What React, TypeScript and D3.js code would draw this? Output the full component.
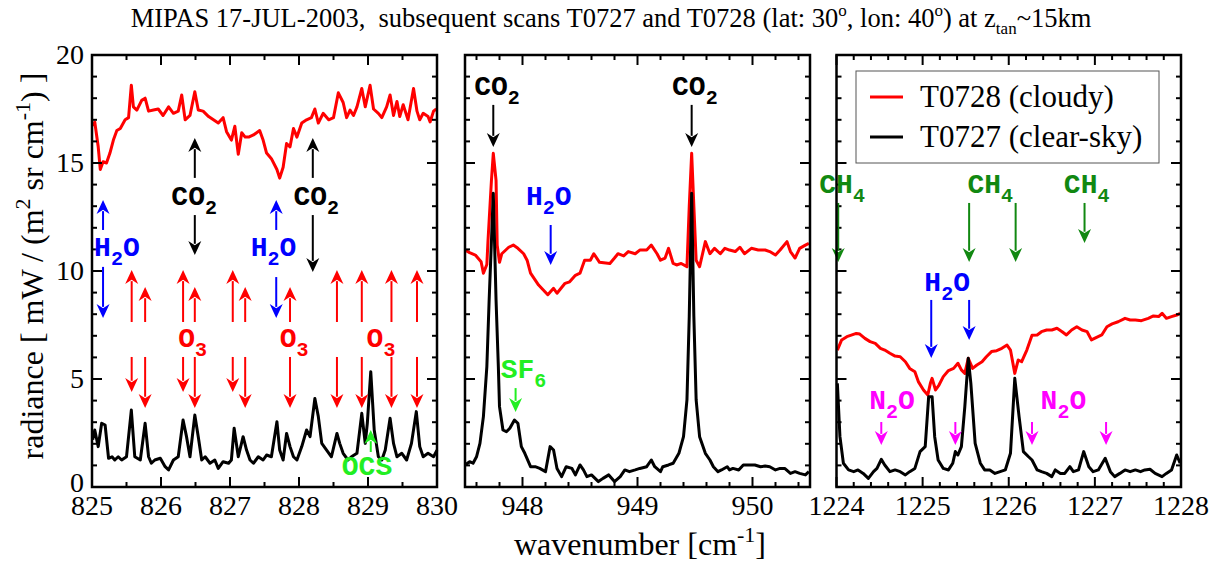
import React from "react";
import * as d3 from "d3";

// ---------------- data ----------------
const p1Cloudy: [number, number][] = [[825.02,16.7],[825.04,16.9],[825.09,15.75],[825.12,14.7],[825.16,15.06],[825.21,15.0],[825.26,15.46],[825.31,16.06],[825.36,16.5],[825.41,16.6],[825.48,17.0],[825.53,17.1],[825.57,18.6],[825.60,17.6],[825.65,17.45],[825.72,17.9],[825.77,18.0],[825.82,17.4],[825.89,17.45],[825.96,17.5],[826.03,17.2],[826.11,17.6],[826.18,17.3],[826.25,17.4],[826.30,18.15],[826.35,17.0],[826.42,17.2],[826.49,18.3],[826.54,17.45],[826.61,17.4],[826.69,17.15],[826.76,17.0],[826.83,16.85],[826.90,17.1],[826.95,16.45],[827.02,16.06],[827.07,16.7],[827.12,15.4],[827.17,16.4],[827.22,16.2],[827.27,16.2],[827.34,16.3],[827.43,16.5],[827.48,16.06],[827.53,15.46],[827.60,15.2],[827.68,14.7],[827.72,14.3],[827.77,14.8],[827.82,15.9],[827.87,15.75],[827.92,16.6],[827.97,16.2],[828.04,16.85],[828.11,17.0],[828.18,17.1],[828.23,17.5],[828.28,16.85],[828.35,17.3],[828.43,17.0],[828.50,17.1],[828.57,18.25],[828.64,17.8],[828.69,17.1],[828.74,17.45],[828.79,17.2],[828.84,17.6],[828.91,18.45],[828.96,17.6],[829.03,18.6],[829.08,17.5],[829.15,17.3],[829.20,17.1],[829.27,17.6],[829.32,18.15],[829.37,17.2],[829.42,17.85],[829.46,17.15],[829.51,17.7],[829.58,17.0],[829.66,18.45],[829.71,17.4],[829.75,17.0],[829.80,17.3],[829.87,17.15],[829.90,16.9],[829.95,17.4],[829.99,17.5]];

const p1Clear: [number, number][] = [[825.01,2.19],[825.04,2.64],[825.09,1.87],[825.14,2.95],[825.19,2.87],[825.24,1.33],[825.29,1.40],[825.33,1.25],[825.38,1.40],[825.43,1.25],[825.50,1.40],[825.57,3.56],[825.62,1.40],[825.70,1.25],[825.77,2.95],[825.82,1.40],[825.86,1.10],[825.91,1.25],[825.99,1.33],[826.06,0.94],[826.11,0.79],[826.18,1.25],[826.25,1.40],[826.32,3.10],[826.37,2.33],[826.42,1.40],[826.49,3.33],[826.54,2.33],[826.59,1.25],[826.64,1.40],[826.71,1.10],[826.78,1.25],[826.83,0.86],[826.90,1.17],[826.98,1.10],[827.02,1.25],[827.06,2.72],[827.12,1.40],[827.19,2.33],[827.24,1.71],[827.29,1.25],[827.34,1.10],[827.41,1.40],[827.48,1.25],[827.53,1.48],[827.60,1.40],[827.68,3.02],[827.72,1.71],[827.77,1.25],[827.82,2.48],[827.87,1.87],[827.92,1.40],[827.97,1.25],[828.04,1.87],[828.11,2.64],[828.16,2.33],[828.23,4.10],[828.28,3.26],[828.33,2.02],[828.40,1.71],[828.47,1.40],[828.55,2.48],[828.59,2.02],[828.64,1.56],[828.71,1.25],[828.76,1.40],[828.84,1.56],[828.91,3.41],[828.96,2.02],[828.99,2.95],[829.04,5.34],[829.09,2.64],[829.15,1.40],[829.20,1.25],[829.25,1.71],[829.32,3.18],[829.37,2.02],[829.42,1.40],[829.49,1.56],[829.56,1.25],[829.63,2.02],[829.70,3.49],[829.75,1.87],[829.80,1.40],[829.87,1.56],[829.95,1.40],[830.0,1.71]];

const p2Cloudy: [number, number][] = [[947.50,10.97],[947.54,10.85],[947.59,10.74],[947.64,10.43],[947.66,9.9],[947.69,10.3],[947.70,11.4],[947.73,14.2],[947.746,15.45],[947.77,14.2],[947.78,11.2],[947.80,10.4],[947.82,10.8],[947.88,11.1],[947.92,11.2],[947.96,11.05],[948.01,10.8],[948.04,10.5],[948.07,9.9],[948.14,9.35],[948.22,8.9],[948.27,9.2],[948.30,8.97],[948.37,9.43],[948.41,9.5],[948.46,9.8],[948.50,9.9],[948.54,10.5],[948.59,10.5],[948.62,10.8],[948.67,10.4],[948.76,10.35],[948.80,10.6],[948.83,10.8],[948.88,10.7],[948.92,10.9],[948.98,10.8],[949.02,10.97],[949.08,10.97],[949.12,11.2],[949.17,10.8],[949.20,10.5],[949.24,10.6],[949.27,11.05],[949.31,10.35],[949.34,10.28],[949.38,10.35],[949.43,10.2],[949.45,13.0],[949.471,15.45],[949.49,13.0],[949.51,10.5],[949.54,10.2],[949.59,11.36],[949.63,10.8],[949.67,11.05],[949.72,10.8],[949.76,11.05],[949.80,10.97],[949.85,10.9],[949.89,11.1],[949.93,10.8],[949.99,11.05],[950.05,10.97],[950.11,10.97],[950.15,10.9],[950.20,10.74],[950.24,10.97],[950.30,11.36],[950.33,10.9],[950.37,10.6],[950.41,11.05],[950.46,11.2],[950.49,11.28]];

const p2Clear: [number, number][] = [[947.50,1.02],[947.54,1.17],[947.57,1.10],[947.60,1.40],[947.63,2.02],[947.66,3.26],[947.69,5.57],[947.71,8.66],[947.746,13.6],[947.77,8.66],[947.79,5.57],[947.80,3.72],[947.83,2.64],[947.86,2.56],[947.89,2.72],[947.93,3.10],[947.96,2.95],[947.99,1.87],[948.02,1.56],[948.07,0.94],[948.11,0.94],[948.15,0.86],[948.20,0.71],[948.24,1.87],[948.27,1.71],[948.30,0.86],[948.34,0.48],[948.38,0.94],[948.43,0.86],[948.46,0.56],[948.50,1.02],[948.53,0.79],[948.56,0.48],[948.60,0.56],[948.66,0.25],[948.70,0.40],[948.75,0.56],[948.80,0.25],[948.85,0.48],[948.89,0.79],[948.93,0.71],[948.98,0.79],[949.02,0.86],[949.08,0.94],[949.12,1.25],[949.15,0.94],[949.20,0.71],[949.22,0.94],[949.27,1.02],[949.31,1.10],[949.36,1.56],[949.40,2.33],[949.43,4.03],[949.45,7.9],[949.471,13.6],[949.49,7.9],[949.51,4.03],[949.54,2.33],[949.59,1.56],[949.63,1.25],[949.66,0.94],[949.70,0.71],[949.73,0.79],[949.78,0.94],[949.80,0.79],[949.83,0.86],[949.88,0.79],[949.92,1.02],[949.96,1.02],[950.02,1.02],[950.07,0.94],[950.11,0.97],[950.15,0.94],[950.20,0.79],[950.24,0.86],[950.28,0.86],[950.33,0.63],[950.37,0.71],[950.41,0.63],[950.46,0.56],[950.49,0.71]];

const p3Cloudy: [number, number][] = [[1224.01,6.34],[1224.06,6.81],[1224.12,6.96],[1224.18,7.04],[1224.23,7.11],[1224.27,7.08],[1224.33,6.88],[1224.39,6.73],[1224.45,6.65],[1224.51,6.42],[1224.56,6.34],[1224.62,6.19],[1224.68,6.06],[1224.74,6.03],[1224.80,5.80],[1224.85,5.49],[1224.91,5.34],[1224.95,4.88],[1225.01,4.49],[1225.06,4.26],[1225.09,4.80],[1225.11,5.03],[1225.15,4.49],[1225.19,4.72],[1225.24,5.11],[1225.30,5.39],[1225.36,5.49],[1225.41,5.73],[1225.45,5.42],[1225.49,5.26],[1225.53,5.96],[1225.58,5.49],[1225.63,5.65],[1225.69,5.80],[1225.74,6.03],[1225.80,6.27],[1225.86,6.31],[1225.92,6.42],[1225.98,6.57],[1226.02,6.34],[1226.07,5.26],[1226.11,5.88],[1226.15,5.80],[1226.21,6.34],[1226.27,7.03],[1226.33,7.04],[1226.38,7.19],[1226.44,7.27],[1226.50,7.27],[1226.56,7.35],[1226.62,7.19],[1226.67,7.04],[1226.73,7.27],[1226.79,7.42],[1226.85,7.27],[1226.91,7.19],[1226.96,6.81],[1227.02,6.93],[1227.08,7.04],[1227.14,7.42],[1227.20,7.55],[1227.27,7.65],[1227.35,7.81],[1227.41,7.73],[1227.47,7.73],[1227.54,7.70],[1227.62,7.81],[1227.68,7.92],[1227.74,7.89],[1227.78,8.04],[1227.83,7.81],[1227.89,7.89],[1227.95,7.96],[1227.99,8.04]];

const p3Clear: [number, number][] = [[1224.01,4.80],[1224.04,2.33],[1224.08,1.10],[1224.14,0.79],[1224.20,0.71],[1224.25,0.79],[1224.31,0.63],[1224.37,0.40],[1224.43,0.71],[1224.47,0.86],[1224.52,1.28],[1224.56,1.02],[1224.62,0.71],[1224.68,0.79],[1224.74,0.71],[1224.80,0.56],[1224.85,0.71],[1224.91,0.86],[1224.97,1.64],[1225.03,1.87],[1225.07,4.18],[1225.11,4.18],[1225.14,2.33],[1225.18,1.25],[1225.24,0.86],[1225.30,0.79],[1225.35,1.10],[1225.38,1.64],[1225.41,1.48],[1225.45,1.87],[1225.49,3.72],[1225.53,5.96],[1225.56,4.80],[1225.61,2.02],[1225.67,1.10],[1225.72,0.79],[1225.78,0.79],[1225.84,0.63],[1225.90,0.71],[1225.96,0.79],[1226.02,1.56],[1226.07,5.03],[1226.12,3.26],[1226.17,1.64],[1226.23,1.40],[1226.27,1.25],[1226.33,0.79],[1226.38,0.71],[1226.44,0.63],[1226.50,0.48],[1226.54,0.79],[1226.60,0.63],[1226.65,0.63],[1226.71,0.94],[1226.75,0.71],[1226.81,0.79],[1226.87,1.64],[1226.93,0.94],[1226.98,0.71],[1227.04,0.79],[1227.12,1.33],[1227.18,0.71],[1227.23,0.48],[1227.29,0.63],[1227.35,0.79],[1227.41,0.71],[1227.47,0.79],[1227.53,0.71],[1227.58,0.79],[1227.64,0.82],[1227.70,0.63],[1227.78,0.48],[1227.83,0.63],[1227.89,0.79],[1227.95,1.48],[1227.99,1.10]];

const p1Ticks = [825, 826, 827, 828, 829, 830];
const p2Ticks = [948, 949, 950];
const p3Ticks = [1224, 1225, 1226, 1227, 1228];
const yTicks = [0, 5, 10, 15, 20];

const legendLabels = ["T0728 (cloudy)", "T0727 (clear-sky)"];

// annotations: [panel, wavenumber, from, to(tip), color]
type Arrow = [number, number, number, number, string];
const arrows: Arrow[] = [
  [0, 826.49, 14.31, 16.16, "#000"], [0, 828.2, 14.31, 16.16, "#000"],
  [0, 826.49, 12.59, 10.74, "#000"], [0, 828.2, 12.59, 9.95, "#000"],
  [0, 825.16, 11.9, 13.29, "#0000ff"], [0, 827.67, 11.9, 13.29, "#0000ff"],
  [0, 825.16, 10.19, 7.82, "#0000ff"], [0, 827.67, 9.72, 7.82, "#0000ff"],
  [0, 825.575, 7.64, 10.05, "#ff0000"], [0, 825.77, 7.64, 9.26, "#ff0000"],
  [0, 826.32, 7.64, 10.05, "#ff0000"], [0, 826.49, 7.64, 9.26, "#ff0000"],
  [0, 827.04, 7.64, 10.05, "#ff0000"], [0, 827.22, 7.64, 9.26, "#ff0000"],
  [0, 827.87, 7.64, 9.26, "#ff0000"], [0, 828.55, 7.64, 10.05, "#ff0000"],
  [0, 828.91, 7.64, 10.05, "#ff0000"], [0, 829.34, 7.64, 10.05, "#ff0000"],
  [0, 829.71, 7.64, 10.05, "#ff0000"],
  [0, 825.575, 6.02, 4.4, "#ff0000"], [0, 825.77, 6.02, 3.66, "#ff0000"],
  [0, 826.32, 6.02, 4.4, "#ff0000"], [0, 826.49, 6.02, 3.66, "#ff0000"],
  [0, 827.04, 6.02, 4.4, "#ff0000"], [0, 827.22, 6.02, 3.66, "#ff0000"],
  [0, 827.87, 6.02, 3.66, "#ff0000"], [0, 828.55, 6.02, 3.66, "#ff0000"],
  [0, 828.91, 6.02, 3.66, "#ff0000"], [0, 829.34, 6.02, 3.66, "#ff0000"],
  [0, 829.71, 6.02, 3.66, "#ff0000"],
  [0, 829.04, 1.62, 2.64, "#22ee22"],
  [1, 947.746, 17.69, 15.74, "#000"], [1, 949.471, 17.69, 15.74, "#000"],
  [1, 948.245, 12.13, 10.28, "#0000ff"],
  [1, 947.94, 4.58, 3.47, "#22ee22"],
  [2, 1224.02, 13.15, 10.42, "#118811"], [2, 1225.54, 13.15, 10.42, "#118811"],
  [2, 1226.08, 13.15, 10.42, "#118811"], [2, 1226.88, 13.15, 11.3, "#118811"],
  [2, 1225.10, 8.66, 5.97, "#0000ff"], [2, 1225.54, 8.66, 6.81, "#0000ff"],
  [2, 1224.52, 3.01, 1.94, "#ff00ff"], [2, 1225.38, 3.01, 1.94, "#ff00ff"],
  [2, 1226.27, 3.01, 1.94, "#ff00ff"], [2, 1227.13, 3.01, 1.94, "#ff00ff"],
];

// labels: [panel, wavenumber (start), radiance (baseline), text, color]
type Lab = [number, number, number, string, string];
const labels: Lab[] = [
  [0, 826.15, 13.06, "CO_2", "#000"], [0, 827.92, 13.06, "CO_2", "#000"],
  [0, 825.03, 10.69, "H_2O", "#0000ff"], [0, 827.30, 10.69, "H_2O", "#0000ff"],
  [0, 826.25, 6.5, "O_3", "#ff0000"], [0, 827.72, 6.5, "O_3", "#ff0000"], [0, 828.98, 6.5, "O_3", "#ff0000"],
  [0, 828.62, 0.56, "OCS", "#22ee22"],
  [1, 947.58, 18.15, "CO_2", "#000"], [1, 949.30, 18.15, "CO_2", "#000"],
  [1, 948.03, 13.06, "H_2O", "#0000ff"],
  [1, 947.81, 5.05, "SF_6", "#22ee22"],
  [2, 1223.8, 13.61, "CH_4", "#118811"], [2, 1225.52, 13.61, "CH_4", "#118811"], [2, 1226.64, 13.61, "CH_4", "#118811"],
  [2, 1225.02, 9.09, "H_2O", "#0000ff"],
  [2, 1224.38, 3.61, "N_2O", "#ff00ff"], [2, 1226.37, 3.61, "N_2O", "#ff00ff"],
];

// ---------------- layout ----------------
const W = 1222, H = 562;
const TOP = 55, BOT = 487;
const SERIF = "'Liberation Serif', 'Times New Roman', serif";
const MONO = "'Liberation Mono', 'Courier New', monospace";

const y = d3.scaleLinear().domain([0, 20]).range([BOT, TOP]);
const panels = [
  { x: d3.scaleLinear().domain([825, 830]).range([92, 437]), major: p1Ticks, minorStep: 0.5, cloudy: p1Cloudy, clear: p1Clear },
  { x: d3.scaleLinear().domain([947.5, 950.5]).range([465, 810]), major: p2Ticks, minorStep: 0.2, cloudy: p2Cloudy, clear: p2Clear },
  { x: d3.scaleLinear().domain([1224, 1228]).range([836.5, 1181]), major: p3Ticks, minorStep: 0.2, cloudy: p3Cloudy, clear: p3Clear },
];

function parseParts(s: string) {
  const out: { t: string; sub: boolean }[] = [];
  for (let i = 0; i < s.length; i++) {
    if (s[i] === "_") { out.push({ t: s[i + 1], sub: true }); i++; }
    else out.push({ t: s[i], sub: false });
  }
  return out;
}

function MolLabel({ x, yy, text, color }: { x: number; yy: number; text: string; color: string }) {
  const parts = parseParts(text);
  const fs = 28, sfs = 20, sh = 9;
  let cur = 0;
  return (
    <text x={x} y={yy} fill={color} fontFamily={MONO} fontWeight="bold" fontSize={fs}>
      {parts.map((p, i) => {
        const target = p.sub ? sh : 0;
        const dy = target - cur;
        cur = target;
        return <tspan key={i} dy={dy} fontSize={p.sub ? sfs : fs}>{p.t}</tspan>;
      })}
    </text>
  );
}

function ArrowMark({ px, y1, y2, color }: { px: number; y1: number; y2: number; color: string }) {
  const dir = y2 > y1 ? 1 : -1;
  const hl = 14, hw = 6.5;
  return (
    <g>
      <line x1={px} x2={px} y1={y1} y2={y2 - dir * hl * 0.8} stroke={color} strokeWidth={2} />
      <polygon points={`${px},${y2} ${px - hw},${y2 - dir * hl} ${px},${y2 - dir * hl * 0.7} ${px + hw},${y2 - dir * hl}`} fill={color} />
    </g>
  );
}

export default function App() {
  const line = (sx: d3.ScaleLinear<number, number>) =>
    d3.line<[number, number]>().x((d) => sx(d[0])).y((d) => y(d[1]));

  const yMinor = d3.range(0, 21, 1);

  return (
    <svg width={W} height={H} style={{ position: "absolute", left: 0, top: 0, background: "#fff" }}>
      {/* title */}
      <text x={611} y={27} textAnchor="middle" fontFamily={SERIF} fontSize={26.5} fill="#000" style={{ whiteSpace: "pre" }}>
        <tspan>MIPAS 17-JUL-2003,  subsequent scans T0727 and T0728 (lat: 30</tspan>
        <tspan dy={-11} fontSize={17}>o</tspan>
        <tspan dy={11}>, lon: 40</tspan>
        <tspan dy={-11} fontSize={17}>o</tspan>
        <tspan dy={11}>) at z</tspan>
        <tspan dy={7} fontSize={17}>tan</tspan>
        <tspan dy={-7}>~15km</tspan>
      </text>

      {panels.map((p, pi) => {
        const [x0, x1] = p.x.range();
        const [d0, d1] = p.x.domain();
        const minors = d3.range(Math.ceil(d0 / p.minorStep - 1e-6) * p.minorStep, d1 + 1e-6, p.minorStep)
          .filter((v) => !p.major.some((m) => Math.abs(m - v) < 1e-6));
        return (
          <g key={pi}>
            {/* curves */}
            <path d={line(p.x)(p.cloudy) || ""} fill="none" stroke="#ff0000" strokeWidth={3} strokeLinejoin="round" />
            <path d={line(p.x)(p.clear) || ""} fill="none" stroke="#000" strokeWidth={3} strokeLinejoin="round" />
            {/* x ticks */}
            {p.major.map((t) => (
              <g key={"M" + t}>
                <line x1={p.x(t)} x2={p.x(t)} y1={BOT} y2={BOT - 10} stroke="#000" strokeWidth={2} />
                <line x1={p.x(t)} x2={p.x(t)} y1={TOP} y2={TOP + 10} stroke="#000" strokeWidth={2} />
                <text x={p.x(t)} y={515} textAnchor="middle" fontFamily={SERIF} fontSize={28}>{String(t)}</text>
              </g>
            ))}
            {minors.map((t, i) => (
              <g key={"m" + i}>
                <line x1={p.x(t)} x2={p.x(t)} y1={BOT} y2={BOT - 5} stroke="#000" strokeWidth={2} />
                <line x1={p.x(t)} x2={p.x(t)} y1={TOP} y2={TOP + 5} stroke="#000" strokeWidth={2} />
              </g>
            ))}
            {/* y ticks both sides */}
            {yMinor.map((v) => {
              const len = v % 5 === 0 ? 10 : 5;
              return (
                <g key={"y" + v}>
                  <line x1={x0} x2={x0 + len} y1={y(v)} y2={y(v)} stroke="#000" strokeWidth={2} />
                  <line x1={x1} x2={x1 - len} y1={y(v)} y2={y(v)} stroke="#000" strokeWidth={2} />
                </g>
              );
            })}
            {pi === 0 && yTicks.map((v) => (
              <text key={"yl" + v} x={84} y={y(v) + (v === 0 ? 5 : 9)} textAnchor="end" fontFamily={SERIF} fontSize={28}>{String(v)}</text>
            ))}
            {/* annotations */}
            {arrows.filter((a) => a[0] === pi).map((a, i) => (
              <ArrowMark key={"a" + i} px={p.x(a[1])} y1={y(a[2])} y2={y(a[3])} color={a[4]} />
            ))}
            {labels.filter((l) => l[0] === pi).map((l, i) => (
              <MolLabel key={"l" + i} x={p.x(l[1])} yy={y(l[2])} text={l[3]} color={l[4]} />
            ))}
            {/* frame */}
            <rect x={x0} y={TOP} width={x1 - x0} height={BOT - TOP} fill="none" stroke="#000" strokeWidth={2.5} />
          </g>
        );
      })}

      {/* legend */}
      <rect x={856} y={71} width={303} height={92} fill="#fff" stroke="#555" strokeWidth={1} />
      <line x1={870} x2={903} y1={97} y2={97} stroke="#ff0000" strokeWidth={3} />
      <text x={920} y={107} fontFamily={SERIF} fontSize={31}>{legendLabels[0]}</text>
      <line x1={870} x2={903} y1={137} y2={137} stroke="#000" strokeWidth={3} />
      <text x={920} y={147} fontFamily={SERIF} fontSize={31}>{legendLabels[1]}</text>

      {/* y label */}
      <text transform="translate(43,266) rotate(-90)" textAnchor="middle" fontFamily={SERIF} fontSize={32}>
        <tspan>radiance [ mW / (m</tspan>
        <tspan dy={-13} fontSize={22}>2</tspan>
        <tspan dy={13}> sr cm</tspan>
        <tspan dy={-13} fontSize={22}>-1</tspan>
        <tspan dy={13}>) ]</tspan>
      </text>

      {/* x label */}
      <text x={640} y={555} textAnchor="middle" fontFamily={SERIF} fontSize={32}>
        <tspan>wavenumber [cm</tspan>
        <tspan dy={-13} fontSize={22}>-1</tspan>
        <tspan dy={13}>]</tspan>
      </text>
    </svg>
  );
}
